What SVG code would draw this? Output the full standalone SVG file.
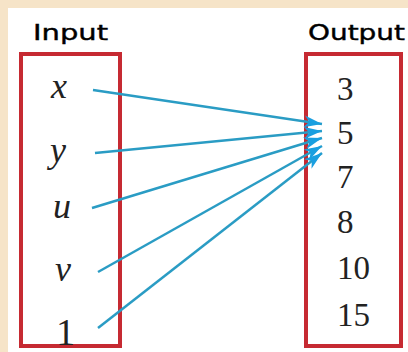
<svg xmlns="http://www.w3.org/2000/svg" width="408" height="352" viewBox="0 0 408 352">
<style>
.box{fill:none;stroke:#c62a32;stroke-width:4}
.title{font-family:"DejaVu Sans",sans-serif;font-size:21px;fill:#000;stroke:#000;stroke-width:0.4}
.var{font-family:"Liberation Serif",serif;font-style:italic;font-size:36px;fill:#222;text-anchor:middle}
.num{font-family:"Liberation Serif",serif;font-size:33px;fill:#222}
.conn{stroke:#2a9cc4;stroke-width:2.5;fill:none;marker-end:url(#ah)}
</style>
<defs>
<marker id="ah" markerUnits="userSpaceOnUse" viewBox="0 0 18 12" markerWidth="18" markerHeight="12" refX="18" refY="6" orient="auto">
<path d="M0,0 L18,6 L0,12 L5,6 z" fill="#1a9fe0"/>
</marker>
</defs>
<rect x="0" y="0" width="408" height="352" fill="#f6e4c8"/>
<rect x="8" y="8" width="400" height="344" fill="#ffffff"/>
<g id="input">
<text class="title" x="33" y="40" textLength="75" lengthAdjust="spacingAndGlyphs">Input</text>
<rect class="box" x="21" y="54" width="99" height="292"/>
<text class="var" x="59" y="98">x</text>
<text class="var" x="58" y="162">y</text>
<text class="var" x="62" y="218">u</text>
<text class="var" x="63" y="281">v</text>
<text class="num" x="56" y="345" style="font-size:38px">1</text>
</g>
<g id="output">
<text class="title" x="308" y="40" textLength="97" lengthAdjust="spacingAndGlyphs">Output</text>
<rect class="box" x="306" y="54" width="95" height="292"/>
<text class="num" x="337" y="100">3</text>
<text class="num" x="337" y="144">5</text>
<text class="num" x="337" y="188">7</text>
<text class="num" x="337" y="233">8</text>
<text class="num" x="337" y="279">10</text>
<text class="num" x="337" y="326">15</text>
</g>
<g id="connectors">
<line class="conn" x1="93" y1="90" x2="322" y2="124"/>
<line class="conn" x1="95" y1="153" x2="322" y2="131"/>
<line class="conn" x1="92" y1="208" x2="322" y2="138"/>
<line class="conn" x1="98" y1="272" x2="322" y2="146"/>
<line class="conn" x1="98" y1="328" x2="322" y2="153"/>
</g>
</svg>
